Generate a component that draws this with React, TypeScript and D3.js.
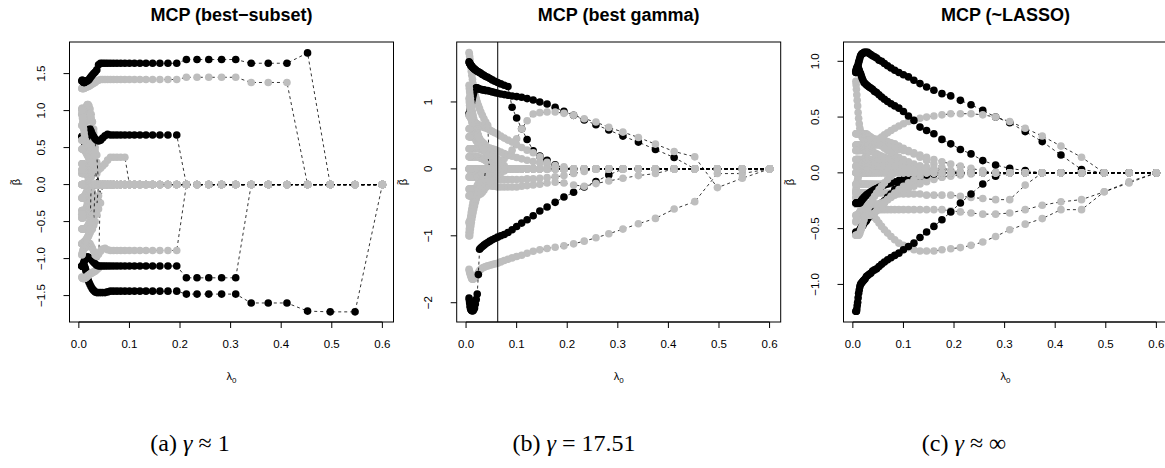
import React from "react";
import * as d3 from "d3";

// lambda grid shared by the three fits (largest first)
const lambdaGrid = [0.6, 0.546, 0.4969, 0.4521, 0.4114, 0.3744, 0.3407, 0.3101, 0.2822, 0.2568,
  0.2336, 0.2126, 0.1935, 0.1761, 0.1602, 0.1458, 0.1327, 0.1207, 0.1099, 0.1,
  0.091, 0.0828, 0.0754, 0.0686, 0.0624, 0.0568, 0.0517, 0.047, 0.0428, 0.0389,
  0.0354, 0.0322, 0.0293, 0.0267, 0.0243, 0.0221, 0.0201, 0.0183, 0.0167, 0.0152,
  0.0138, 0.0126, 0.0114, 0.0104, 0.0095, 0.0086, 0.0078, 0.0071, 0.0065, 0.0059];

// c: k = true signal (black), g = noise (grey); coefficient is 0 before index k0
type Path = { c: "k" | "g"; k0: number; v: number[] };

const subsetPaths: Path[] = [
  { c: "k", k0: 1, v: [-1.72, -1.72, -1.71, -1.6, -1.6, -1.6, -1.48, -1.48, -1.48, -1.48, -1.48, -1.44, -1.44, -1.44, -1.44, -1.44, -1.44, -1.44, -1.44, -1.44, -1.44, -1.44, -1.44, -1.44, -1.45, -1.46, -1.46, -1.46, -1.46, -1.46, -1.45, -1.43, -1.41, -1.38, -1.35, -1.32, -1.29, -1.25, -1.2, -1.16, -1.13, -1.11, -1.1, -1.1, -1.1, -1.1, -1.1, -1.1, -1.1] },
  { c: "g", k0: 29, v: [-1.13, -1.15, -1.17, -1.18, -1.19, -1.2, -1.21, -1.22, -1.23, -1.24, -1.25, -1.26, -1.26, -1.27, -1.27, -1.27, -1.27, -1.27, -1.26, -1.26, -1.25] },
  { c: "k", k0: 7, v: [-1.26, -1.26, -1.26, -1.26, -1.26, -1.1, -1.1, -1.1, -1.1, -1.1, -1.1, -1.1, -1.1, -1.1, -1.1, -1.1, -1.1, -1.1, -1.1, -1.1, -1.1, -1.1, -1.1, -1.09, -1.07, -1.05, -1.03, -1.01, -1.0, -0.99, -0.98, -0.98, -0.98, -0.99, -1.0, -1.02, -1.04, -1.06, -1.08, -1.09, -1.1, -1.1, -1.1] },
  { c: "g", k0: 12, v: [-0.89, -0.89, -0.89, -0.89, -0.89, -0.89, -0.89, -0.89, -0.89, -0.89, -0.89, -0.89, -0.89, -0.88, -0.86, -0.87, -0.9, -0.94, -0.97, -0.95, -0.9, -0.86, -0.83, -0.8, -0.79, -0.8, -0.82, -0.84, -0.85, -0.83, -0.8, -0.79, -0.78, -0.79, -0.8, -0.8, -0.8, -0.8] },
  { c: "g", k0: 4, v: [1.38, 1.38, 1.38, 1.45, 1.45, 1.45, 1.45, 1.45, 1.42, 1.42, 1.42, 1.42, 1.42, 1.42, 1.42, 1.42, 1.42, 1.42, 1.42, 1.42, 1.42, 1.42, 1.42, 1.42, 1.42, 1.41, 1.4, 1.38, 1.37, 1.36, 1.35, 1.34, 1.33, 1.33, 1.32, 1.32, 1.32, 1.31, 1.31, 1.3, 1.3, 1.3, 1.3, 1.3, 1.3, 1.3] },
  { c: "k", k0: 3, v: [1.78, 1.64, 1.64, 1.64, 1.69, 1.69, 1.69, 1.69, 1.69, 1.64, 1.64, 1.64, 1.64, 1.64, 1.64, 1.64, 1.64, 1.64, 1.64, 1.64, 1.64, 1.64, 1.64, 1.64, 1.64, 1.64, 1.62, 1.55, 1.52, 1.5, 1.48, 1.46, 1.44, 1.42, 1.41, 1.4, 1.4, 1.4, 1.39, 1.38, 1.38, 1.38, 1.39, 1.4, 1.41, 1.41, 1.4] },
  { c: "g", k0: 30, v: [0.3, 0.5, 0.7, 0.85, 0.95, 1.02, 1.06, 1.08, 1.08, 1.06, 1.03, 1.0, 0.98, 0.97, 0.98, 1.0, 1.02, 1.03, 1.03, 1.02] },
  { c: "g", k0: 31, v: [0.6, 0.75, 0.85, 0.9, 0.92, 0.93, 0.9, 0.88, 0.86, 0.85, 0.85, 0.86, 0.88, 0.9, 0.92, 0.94, 0.95, 0.95, 0.95] },
  { c: "g", k0: 30, v: [0.15, 0.25, 0.35, 0.45, 0.55, 0.6, 0.65, 0.68, 0.7, 0.72, 0.74, 0.76, 0.78, 0.8, 0.8, 0.8, 0.8, 0.8, 0.8, 0.8] },
  { c: "k", k0: 12, v: [0.67, 0.67, 0.67, 0.67, 0.67, 0.67, 0.67, 0.67, 0.67, 0.67, 0.67, 0.67, 0.67, 0.68, 0.66, 0.63, 0.6, 0.59, 0.6, 0.62, 0.65, 0.68, 0.72, 0.75, 0.74, 0.7, 0.66, 0.63, 0.6, 0.58, 0.57, 0.6, 0.62, 0.64, 0.65, 0.65, 0.65, 0.65] },
  { c: "g", k0: 20, v: [0.37, 0.37, 0.37, 0.37, 0.37, 0.33, 0.28, 0.25, 0.22, 0.2, 0.21, 0.22, 0.25, 0.28, 0.3, 0.33, 0.36, 0.4, 0.45, 0.5, 0.55, 0.6, 0.65, 0.7, 0.75, 0.8, 0.85, 0.9, 0.95, 1.0] },
  { c: "g", k0: 28, v: [-0.25, -0.33, -0.4, -0.5, -0.55, -0.6, -0.62, -0.65, -0.68, -0.7, -0.72, -0.74, -0.75, -0.76, -0.77, -0.78, -0.78, -0.79, -0.8, -0.8, -0.8, -0.8] },
  { c: "g", k0: 29, v: [-0.15, -0.2, -0.28, -0.35, -0.4, -0.45, -0.5, -0.52, -0.55, -0.57, -0.58, -0.6, -0.6, -0.6, -0.6, -0.6, -0.6, -0.6, -0.6, -0.6, -0.6] },
  { c: "g", k0: 31, v: [0.3, 0.35, 0.4, 0.45, 0.48, 0.5, 0.52, 0.55, 0.57, 0.58, 0.6, 0.6, 0.6, 0.6, 0.6, 0.6, 0.6, 0.6, 0.6] },
  { c: "g", k0: 30, v: [-0.3, -0.35, -0.4, -0.45, -0.3, -0.2, -0.15, -0.2, -0.25, -0.3, -0.35, -0.38, -0.4, -0.42, -0.43, -0.44, -0.45, -0.45, -0.45, -0.45] },
  { c: "g", k0: 32, v: [0.2, 0.25, 0.3, 0.32, 0.35, 0.38, 0.4, 0.42, 0.44, 0.45, 0.46, 0.47, 0.48, 0.48, 0.48, 0.48, 0.48, 0.48] },
  { c: "g", k0: 33, v: [-0.1, -0.15, -0.2, -0.25, -0.3, -0.32, -0.34, -0.35, -0.35, -0.35, -0.35, -0.35, -0.35, -0.35, -0.35, -0.35, -0.35] },
  { c: "g", k0: 34, v: [0.1, 0.12, 0.15, 0.18, 0.2, 0.22, 0.24, 0.25, 0.26, 0.27, 0.28, 0.28, 0.28, 0.28, 0.28, 0.28] },
  { c: "g", k0: 35, v: [-0.6, -0.65, -0.7, -0.72, -0.75, -0.78, -0.8, -0.82, -0.84, -0.86, -0.88, -0.9, -0.92, -0.94, -0.95] },
  { c: "g", k0: 36, v: [0.1, 0.05, 0.12, 0.14, 0.15, 0.15, 0.15, 0.15, 0.15, 0.15, 0.15, 0.15, 0.15, 0.15] },
  { c: "g", k0: 37, v: [-0.05, -0.08, -0.1, -0.12, -0.14, -0.15, -0.16, -0.17, -0.18, -0.18, -0.18, -0.18, -0.18] },
  { c: "g", k0: 30, v: [0.4, 0.45, 0.38, 0.3, 0.25, 0.22, 0.2, 0.2, 0.2, 0.2, 0.2, 0.2, 0.2, 0.2, 0.2, 0.2, 0.2, 0.2, 0.2, 0.2] },
  { c: "g", k0: 32, v: [-0.5, -0.55, -0.5, -0.45, -0.42, -0.4, -0.4, -0.4, -0.4, -0.4, -0.4, -0.4, -0.4, -0.4, -0.4, -0.4, -0.4, -0.4] },
  { c: "g", k0: 50, v: [] },
  { c: "g", k0: 50, v: [] },
];

const gammaPaths: Path[] = [
  { c: "g", k0: 28, v: [0.65, 0.7, 0.75, 0.8, 0.85, 0.9, 0.95, 1.0, 1.05, 1.1, 1.15, 1.2, 1.27, 1.34, 1.4, 1.46, 1.52, 1.58, 1.63, 1.68, 1.72, 1.74] },
  { c: "k", k0: 13, v: [0.06, 0.13, 0.19, 0.27, 0.44, 0.6, 0.76, 0.92, 1.23, 1.25, 1.27, 1.29, 1.31, 1.33, 1.35, 1.37, 1.38, 1.4, 1.41, 1.43, 1.44, 1.45, 1.46, 1.47, 1.48, 1.49, 1.5, 1.51, 1.52, 1.53, 1.54, 1.55, 1.56, 1.57, 1.58, 1.59, 1.6] },
  { c: "k", k0: 4, v: [0.17, 0.29, 0.4, 0.49, 0.58, 0.66, 0.73, 0.8, 0.86, 0.92, 0.97, 1.0, 1.03, 1.05, 1.07, 1.08, 1.09, 1.1, 1.11, 1.12, 1.13, 1.14, 1.15, 1.16, 1.17, 1.17, 1.18, 1.18, 1.19, 1.19, 1.2, 1.21, 1.21, 1.2, 1.18, 1.14, 1.1, 1.06, 1.02, 0.98, 0.94, 0.9, 0.87, 0.85, 0.83, 0.82] },
  { c: "g", k0: 1, v: [-0.14, -0.28, 0.18, 0.26, 0.37, 0.47, 0.55, 0.62, 0.7, 0.75, 0.8, 0.83, 0.85, 0.85, 0.84, 0.82, 0.72, 0.6, 0.45, 0.28, 0.2, 0.15, 0.12, 0.1, 0.1, 0.12, 0.15, 0.2, 0.25, 0.3, 0.35, 0.4, 0.45, 0.5, 0.55, 0.6, 0.65, 0.7, 0.75, 0.8, 0.85, 0.9, 0.95, 1.0, 1.05, 1.1, 1.15, 1.2, 1.25] },
  { c: "g", k0: 1, v: [-0.07, -0.07, -0.49, -0.6, -0.74, -0.82, -0.9, -0.97, -1.03, -1.08, -1.12, -1.15, -1.17, -1.19, -1.21, -1.23, -1.26, -1.29, -1.31, -1.33, -1.35, -1.37, -1.39, -1.41, -1.42, -1.43, -1.44, -1.45, -1.46, -1.47, -1.48, -1.5, -1.52, -1.55, -1.58, -1.6, -1.62, -1.63, -1.64, -1.65, -1.65, -1.64, -1.62, -1.6, -1.58, -1.56, -1.54, -1.52, -1.5] },
  { c: "k", k0: 8, v: [-0.09, -0.19, -0.27, -0.35, -0.42, -0.5, -0.57, -0.63, -0.7, -0.76, -0.81, -0.86, -0.91, -0.95, -0.98, -1.0, -1.02, -1.04, -1.06, -1.08, -1.1, -1.12, -1.14, -1.16, -1.18, -1.2, -1.58, -1.87, -1.95, -2.02, -2.08, -2.1, -2.12, -2.12, -2.12, -2.11, -2.1, -2.08, -2.05, -2.0, -1.96, -1.93] },
  { c: "g", k0: 14, v: [0.1, 0.18, 0.24, 0.28, 0.32, 0.36, 0.4, 0.43, 0.46, 0.49, 0.52, 0.54, 0.56, 0.58, 0.6, 0.61, 0.62, 0.63, 0.64, 0.65, 0.66, 0.67, 0.68, 0.69, 0.7, 0.71, 0.72, 0.73, 0.74, 0.75, 0.76, 0.77, 0.78, 0.79, 0.8, 0.8] },
  { c: "g", k0: 5, v: [-0.07, -0.1, -0.14, -0.18, -0.22, -0.26, -0.24, -0.21, -0.2, -0.21, -0.23, -0.24, -0.25, -0.26, -0.27, -0.27, -0.27, -0.27, -0.27, -0.27, -0.26, -0.26, -0.25, -0.25, -0.24, -0.24, -0.23, -0.23, -0.22, -0.22, -0.25, -0.3, -0.35, -0.4, -0.45, -0.5, -0.55, -0.6, -0.65, -0.7, -0.75, -0.8, -0.85, -0.9, -0.95] },
  { c: "g", k0: 10, v: [-0.04, -0.07, -0.1, -0.12, -0.13, -0.14, -0.15, -0.15, -0.16, -0.16, -0.16, -0.16, -0.16, -0.16, -0.16, -0.16, -0.16, -0.16, -0.16, -0.16, -0.17, -0.18, -0.2, -0.25, -0.3, -0.35, -0.4, -0.45, -0.5, -0.55, -0.6, -0.65, -0.7, -0.72, -0.74, -0.76, -0.78, -0.8, -0.8, -0.8] },
  { c: "g", k0: 12, v: [0.03, 0.05, 0.07, 0.09, 0.11, 0.13, 0.15, 0.17, 0.19, 0.21, 0.23, 0.25, 0.27, 0.29, 0.3, 0.31, 0.32, 0.33, 0.34, 0.35, 0.36, 0.37, 0.38, 0.4, 0.42, 0.45, 0.5, 0.55, 0.6, 0.65, 0.7, 0.75, 0.8, 0.85, 0.9, 0.95, 1.0, 1.05] },
  { c: "g", k0: 22, v: [0.05, 0.1, 0.15, 0.2, 0.22, 0.24, 0.25, 0.26, 0.27, 0.28, 0.29, 0.3, 0.3, 0.3, 0.3, 0.3, 0.3, 0.3, 0.3, 0.3, 0.3, 0.3, 0.3, 0.3, 0.3, 0.3, 0.3, 0.3] },
  { c: "g", k0: 22, v: [-0.03, -0.06, -0.09, -0.12, -0.14, -0.16, -0.18, -0.2, -0.22, -0.24, -0.26, -0.28, -0.3, -0.3, -0.3, -0.3, -0.3, -0.3, -0.3, -0.3, -0.3, -0.3, -0.3, -0.3, -0.3, -0.3, -0.3, -0.3] },
  { c: "g", k0: 24, v: [0.1, 0.15, 0.2, 0.25, 0.3, 0.35, 0.38, 0.4, 0.42, 0.44, 0.45, 0.46, 0.47, 0.48, 0.48, 0.48, 0.48, 0.48, 0.48, 0.48, 0.48, 0.48, 0.48, 0.48, 0.48, 0.48] },
  { c: "g", k0: 24, v: [-0.08, -0.12, -0.16, -0.2, -0.24, -0.28, -0.32, -0.35, -0.37, -0.38, -0.39, -0.4, -0.4, -0.4, -0.4, -0.4, -0.4, -0.4, -0.4, -0.4, -0.4, -0.4, -0.4, -0.4, -0.4, -0.4] },
  { c: "g", k0: 26, v: [0.05, 0.08, 0.1, 0.12, 0.14, 0.15, 0.16, 0.17, 0.18, 0.18, 0.18, 0.18, 0.18, 0.18, 0.18, 0.18, 0.18, 0.18, 0.18, 0.18, 0.18, 0.18, 0.18, 0.18] },
  { c: "g", k0: 26, v: [-0.05, -0.07, -0.09, -0.1, -0.11, -0.12, -0.12, -0.12, -0.12, -0.12, -0.12, -0.12, -0.12, -0.12, -0.12, -0.12, -0.12, -0.12, -0.12, -0.12, -0.12, -0.12, -0.12, -0.12] },
  { c: "g", k0: 28, v: [0.2, 0.25, 0.3, 0.35, 0.4, 0.45, 0.5, 0.55, 0.57, 0.58, 0.6, 0.6, 0.6, 0.6, 0.6, 0.6, 0.6, 0.6, 0.6, 0.6, 0.6, 0.6] },
  { c: "g", k0: 30, v: [-0.2, -0.22, -0.25, -0.3, -0.35, -0.4, -0.45, -0.5, -0.55, -0.6, -0.65, -0.7, -0.75, -0.8, -0.85, -0.9, -0.95, -1.0, -1.0, -1.0] },
  { c: "g", k0: 50, v: [] },
  { c: "g", k0: 50, v: [] },
];

const lassoPaths: Path[] = [
  { c: "g", k0: 12, v: [0.02, 0.05, 0.08, 0.11, 0.14, 0.17, 0.2, 0.22, 0.24, 0.26, 0.27, 0.28, 0.29, 0.3, 0.3, 0.3, 0.3, 0.3, 0.3, 0.3, 0.3, 0.3, 0.3, 0.3, 0.31, 0.32, 0.34, 0.37, 0.4, 0.44, 0.49, 0.54, 0.6, 0.65, 0.7, 0.75, 0.79, 0.82] },
  { c: "g", k0: 1, v: [-0.08, -0.17, -0.33, -0.33, -0.41, -0.46, -0.51, -0.57, -0.62, -0.65, -0.67, -0.68, -0.69, -0.7, -0.7, -0.7, -0.69, -0.67, -0.65, -0.63, -0.6, -0.57, -0.54, -0.51, -0.48, -0.45, -0.42, -0.4, -0.38, -0.36, -0.34, -0.32, -0.3, -0.29, -0.28, -0.27, -0.26, -0.25, -0.25, -0.24, -0.24, -0.23, -0.23, -0.22, -0.22, -0.22, -0.22, -0.22, -0.22] },
  { c: "k", k0: 3, v: [0.03, 0.16, 0.28, 0.37, 0.45, 0.5, 0.56, 0.61, 0.65, 0.69, 0.71, 0.74, 0.77, 0.8, 0.83, 0.86, 0.88, 0.9, 0.92, 0.94, 0.96, 0.98, 1.0, 1.01, 1.03, 1.04, 1.05, 1.06, 1.07, 1.08, 1.08, 1.08, 1.08, 1.07, 1.07, 1.06, 1.05, 1.03, 1.01, 0.99, 0.97, 0.95, 0.93, 0.92, 0.91, 0.9, 0.9] },
  { c: "g", k0: 3, v: [0.14, 0.24, 0.33, 0.4, 0.46, 0.5, 0.52, 0.53, 0.53, 0.53, 0.52, 0.51, 0.5, 0.49, 0.47, 0.46, 0.44, 0.42, 0.4, 0.38, 0.36, 0.34, 0.32, 0.3, 0.28, 0.26, 0.24, 0.22, 0.2, 0.18, 0.16, 0.14, 0.12, 0.1, 0.08, 0.06, 0.04, 0.02, 0.0, -0.02, -0.04, -0.06, -0.08, -0.1, -0.12, -0.14, -0.16] },
  { c: "k", k0: 6, v: [0.02, 0.04, 0.07, 0.11, 0.17, 0.21, 0.26, 0.3, 0.35, 0.38, 0.41, 0.47, 0.51, 0.55, 0.58, 0.6, 0.62, 0.64, 0.66, 0.68, 0.7, 0.72, 0.73, 0.75, 0.76, 0.77, 0.78, 0.79, 0.8, 0.81, 0.83, 0.85, 0.87, 0.89, 0.9, 0.92, 0.93, 0.94, 0.95, 0.95, 0.94, 0.93, 0.92, 0.91] },
  { c: "g", k0: 1, v: [-0.09, -0.17, -0.24, -0.26, -0.29, -0.33, -0.36, -0.37, -0.37, -0.36, -0.35, -0.34, -0.33, -0.33, -0.33, -0.33, -0.33, -0.33, -0.33, -0.33, -0.33, -0.33, -0.33, -0.33, -0.33, -0.33, -0.33, -0.33, -0.33, -0.33, -0.33, -0.33, -0.33, -0.33, -0.33, -0.33, -0.33, -0.33, -0.34, -0.35, -0.36, -0.37, -0.38, -0.39, -0.4, -0.41, -0.42, -0.43, -0.44] },
  { c: "g", k0: 6, v: [-0.11, -0.24, -0.24, -0.23, -0.22, -0.21, -0.2, -0.2, -0.2, -0.2, -0.19, -0.19, -0.19, -0.19, -0.19, -0.19, -0.18, -0.18, -0.18, -0.18, -0.18, -0.18, -0.18, -0.18, -0.18, -0.18, -0.18, -0.18, -0.18, -0.18, -0.18, -0.18, -0.18, -0.18, -0.18, -0.18, -0.18, -0.18, -0.18, -0.18, -0.18, -0.18, -0.18, -0.18] },
  { c: "g", k0: 9, v: [0.02, 0.04, 0.06, 0.08, 0.1, 0.12, 0.14, 0.16, 0.18, 0.19, 0.2, 0.21, 0.22, 0.23, 0.24, 0.25, 0.25, 0.25, 0.25, 0.25, 0.25, 0.25, 0.25, 0.25, 0.25, 0.25, 0.25, 0.25, 0.25, 0.25, 0.25, 0.25, 0.25, 0.25, 0.25, 0.25, 0.25, 0.25, 0.25, 0.25, 0.25] },
  { c: "g", k0: 11, v: [0.01, 0.02, 0.03, 0.04, 0.05, 0.06, 0.07, 0.08, 0.09, 0.1, 0.11, 0.12, 0.13, 0.14, 0.15, 0.16, 0.17, 0.18, 0.19, 0.2, 0.2, 0.2, 0.2, 0.2, 0.2, 0.2, 0.2, 0.2, 0.2, 0.2, 0.2, 0.2, 0.2, 0.2, 0.2, 0.2, 0.2, 0.2, 0.2] },
  { c: "k", k0: 8, v: [-0.03, -0.1, -0.19, -0.27, -0.35, -0.42, -0.48, -0.53, -0.58, -0.63, -0.66, -0.69, -0.72, -0.74, -0.76, -0.78, -0.8, -0.82, -0.84, -0.86, -0.87, -0.88, -0.9, -0.91, -0.92, -0.93, -0.95, -0.96, -0.97, -0.98, -0.99, -1.0, -1.02, -1.05, -1.08, -1.12, -1.16, -1.19, -1.22, -1.24, -1.24, -1.24] },
  { c: "g", k0: 13, v: [0.01, 0.02, 0.03, 0.04, 0.05, 0.06, 0.07, 0.08, 0.09, 0.1, 0.11, 0.12, 0.12, 0.12, 0.12, 0.12, 0.12, 0.12, 0.12, 0.12, 0.12, 0.12, 0.12, 0.12, 0.12, 0.12, 0.12, 0.12, 0.12, 0.12, 0.12, 0.12, 0.12, 0.12, 0.12, 0.12, 0.12] },
  { c: "g", k0: 10, v: [-0.01, -0.02, -0.03, -0.04, -0.05, -0.06, -0.07, -0.08, -0.09, -0.1, -0.1, -0.1, -0.1, -0.1, -0.1, -0.1, -0.1, -0.1, -0.1, -0.1, -0.1, -0.1, -0.1, -0.1, -0.1, -0.1, -0.1, -0.1, -0.1, -0.1, -0.1, -0.1, -0.1, -0.1, -0.1, -0.1, -0.1, -0.1, -0.1, -0.1] },
  { c: "k", k0: 15, v: [-0.01, -0.02, -0.04, -0.06, -0.09, -0.12, -0.15, -0.19, -0.22, -0.25, -0.27, -0.29, -0.31, -0.33, -0.35, -0.37, -0.39, -0.41, -0.43, -0.44, -0.45, -0.47, -0.48, -0.49, -0.5, -0.51, -0.52, -0.53, -0.54, -0.55, -0.55, -0.55, -0.55, -0.54, -0.53] },
  { c: "g", k0: 12, v: [-0.02, -0.04, -0.06, -0.08, -0.1, -0.12, -0.14, -0.16, -0.18, -0.2, -0.22, -0.24, -0.26, -0.27, -0.28, -0.28, -0.28, -0.28, -0.28, -0.28, -0.28, -0.28, -0.28, -0.28, -0.28, -0.28, -0.28, -0.28, -0.28, -0.28, -0.28, -0.28, -0.28, -0.28, -0.28, -0.28, -0.28, -0.28] },
  { c: "g", k0: 14, v: [0.02, 0.04, 0.06, 0.08, 0.1, 0.12, 0.14, 0.16, 0.18, 0.2, 0.22, 0.24, 0.26, 0.28, 0.3, 0.31, 0.32, 0.33, 0.34, 0.35, 0.35, 0.35, 0.35, 0.35, 0.35, 0.35, 0.35, 0.35, 0.35, 0.35, 0.35, 0.35, 0.35, 0.35, 0.35, 0.35] },
  { c: "k", k0: 14, v: [-0.01, -0.02, -0.03, -0.04, -0.05, -0.06, -0.07, -0.08, -0.09, -0.1, -0.11, -0.12, -0.13, -0.14, -0.15, -0.16, -0.17, -0.18, -0.19, -0.2, -0.21, -0.22, -0.23, -0.24, -0.25, -0.26, -0.27, -0.27, -0.27, -0.27, -0.27, -0.27, -0.27, -0.27, -0.27, -0.27] },
  { c: "g", k0: 16, v: [-0.03, -0.06, -0.09, -0.12, -0.15, -0.18, -0.21, -0.24, -0.27, -0.3, -0.32, -0.34, -0.36, -0.37, -0.38, -0.38, -0.38, -0.38, -0.38, -0.38, -0.38, -0.38, -0.38, -0.38, -0.38, -0.38, -0.38, -0.38, -0.38, -0.38, -0.38, -0.38, -0.38, -0.38] },
  { c: "g", k0: 15, v: [0.01, 0.02, 0.03, 0.04, 0.05, 0.06, 0.06, 0.06, 0.06, 0.06, 0.06, 0.06, 0.06, 0.06, 0.06, 0.06, 0.06, 0.06, 0.06, 0.06, 0.06, 0.06, 0.06, 0.06, 0.06, 0.06, 0.06, 0.06, 0.06, 0.06, 0.06, 0.06, 0.06, 0.06, 0.06] },
  { c: "g", k0: 22, v: [-0.03, -0.06, -0.09, -0.12, -0.15, -0.18, -0.21, -0.24, -0.27, -0.3, -0.33, -0.36, -0.39, -0.42, -0.45, -0.48, -0.5, -0.52, -0.54, -0.55, -0.56, -0.56, -0.56, -0.56, -0.56, -0.56, -0.56, -0.56] },
  { c: "g", k0: 50, v: [] },
  { c: "g", k0: 50, v: [] },
];

const panelPaths = [subsetPaths, gammaPaths, lassoPaths];
const panelTitles = ["MCP (best\u2212subset)", "MCP (best gamma)", "MCP (~LASSO)"];
const captionTags = ["(a)", "(b)", "(c)"];
const captionRels = ["\u2248 1", "= 17.51", "\u2248 \u221e"];
const xTicks = [0, 0.1, 0.2, 0.3, 0.4, 0.5, 0.6];
const yTicks = [[-1.5, -1, -0.5, 0, 0.5, 1, 1.5], [-2, -1, 0, 1], [-1, -0.5, 0, 0.5, 1]];
const yDigits = [1, 0, 1];
const yDomains: [number, number][] = [[-1.857, 1.927], [-2.288, 1.896], [-1.337, 1.173]];
const xDomain: [number, number] = [-0.0185, 0.622];
const selectedLambda = 0.0626;

const W = 324;
const H = 280;
const TOP = 42;
const panelLefts = [69.5, 456.7, 843.5];
const captionCenters = [190, 574, 964];
const INK = "#000000";
const GREY = "#BEBEBE";
const SANS = "'Liberation Sans Narrow', 'Liberation Sans', Arial, sans-serif";

function expand(p: Path): [number, number][] {
  const n = Math.min(p.k0 + p.v.length, lambdaGrid.length);
  const pts: [number, number][] = [];
  for (let k = 0; k < n; k++) pts.push([lambdaGrid[k], k < p.k0 ? 0 : p.v[k - p.k0]]);
  return pts;
}

function Panel({ i }: { i: number }) {
  const left = panelLefts[i];
  const x = d3.scaleLinear().domain(xDomain).range([left, left + W]);
  const y = d3.scaleLinear().domain(yDomains[i]).range([TOP + H, TOP]);
  const line = d3.line<[number, number]>().x(d => x(d[0])).y(d => y(d[1]));
  const fmtY = d3.format(`.${yDigits[i]}f`);
  const fmtX = d3.format(".1f");
  const cx = left + W / 2;
  const cy = TOP + H / 2;

  return (
    <g>
      <defs>
        <clipPath id={`clip${i}`}>
          <rect x={left} y={TOP} width={W} height={H} />
        </clipPath>
      </defs>
      <g clipPath={`url(#clip${i})`}>
        {panelPaths[i].map((p, j) => {
          const pts = expand(p);
          return (
            <g key={j}>
              <path d={line(pts) || ""} fill="none" stroke={INK} strokeWidth={0.8} strokeDasharray="3 3" />
              {pts.map((d, m) => (
                <circle key={m} cx={x(d[0])} cy={y(d[1])} r={3.8} fill={p.c === "k" ? INK : GREY} />
              ))}
            </g>
          );
        })}
        {i === 1 && (
          <line x1={x(selectedLambda)} x2={x(selectedLambda)} y1={TOP} y2={TOP + H} stroke={INK} strokeWidth={1} />
        )}
      </g>
      <rect x={left} y={TOP} width={W} height={H} fill="none" stroke={INK} strokeWidth={1} />

      <text x={cx} y={21} textAnchor="middle" fontFamily="'Liberation Sans', Arial, sans-serif" fontWeight="bold" fontSize={18}>
        {panelTitles[i]}
      </text>

      <line x1={x(xTicks[0])} x2={x(xTicks[xTicks.length - 1])} y1={TOP + H} y2={TOP + H} stroke={INK} />
      {xTicks.map(t => (
        <g key={t}>
          <line x1={x(t)} x2={x(t)} y1={TOP + H} y2={TOP + H + 6} stroke={INK} />
          <text x={x(t)} y={348} textAnchor="middle" fontFamily={SANS} fontSize={11.5}>{fmtX(t)}</text>
        </g>
      ))}
      <text x={cx} y={380} textAnchor="middle" fontFamily={SANS} fontSize={11}>
        {"\u03BB"}<tspan fontSize={8} dy={3}>0</tspan>
      </text>

      {yTicks[i].map(t => (
        <g key={t}>
          <line x1={left - 6} x2={left} y1={y(t)} y2={y(t)} stroke={INK} />
          <text transform={`translate(${left - 25},${y(t)}) rotate(-90)`} textAnchor="middle" fontFamily={SANS} fontSize={11.5}>
            {fmtY(t)}
          </text>
        </g>
      ))}
      <g transform={`translate(${left - 50},${cy}) rotate(-90)`} fontFamily={SANS}>
        <text textAnchor="middle" fontSize={11}>{"\u03B2"}</text>
        <text y={-6} textAnchor="middle" fontSize={9}>~</text>
      </g>

      <text x={captionCenters[i]} y={451} textAnchor="middle" fontFamily="'Liberation Serif', 'Times New Roman', serif" fontSize={24}>
        {captionTags[i]} <tspan fontStyle="italic">{"\u03B3"}</tspan> {captionRels[i]}
      </text>
    </g>
  );
}

export default function App() {
  return (
    <svg width={1165} height={468} style={{ position: "absolute", left: 0, top: 0, background: "#ffffff" }}>
      <rect x={0} y={0} width={1165} height={468} fill="#ffffff" />
      {[0, 1, 2].map(i => <Panel key={i} i={i} />)}
    </svg>
  );
}
